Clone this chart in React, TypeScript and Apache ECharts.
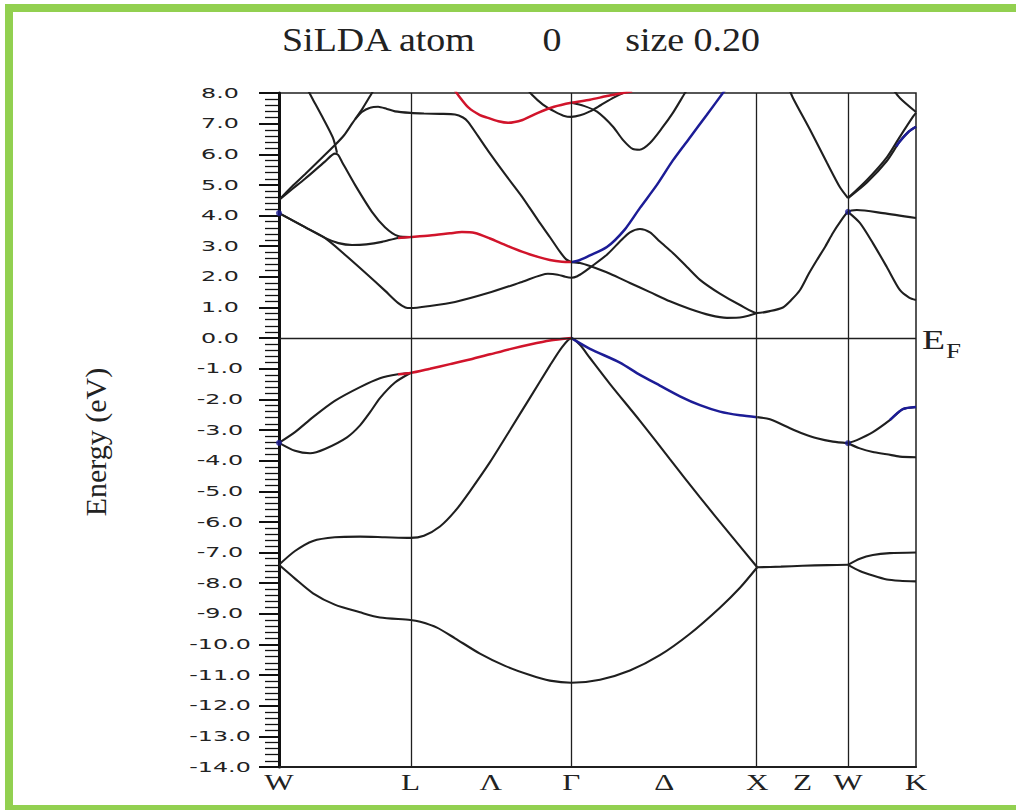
import { useEffect, useRef } from "react";
import * as echarts from "echarts";

// Path W–L–Γ–X–W–K, cumulative |k| in units of 2π/a
const K_VERTICAL = [0.707, 1.573, 2.573, 3.061];
const K_MAX = 3.427;
const K_LABELS = ["W", "L", "Λ", "Γ", "Δ", "X", "Z", "W", "K"];
const K_LABEL_POS = [0, 0.707, 1.14, 1.573, 2.073, 2.573, 2.817, 3.061, 3.427];

const E_MIN = -14;
const E_MAX = 8;
const E_TICKS = [8, 7, 6, 5, 4, 3, 2, 1, 0, -1, -2, -3, -4, -5, -6, -7, -8, -9, -10, -11, -12, -13, -14];

const TITLE_PARTS = ["SiLDA atom", "0", "size 0.20"];
const Y_TITLE = "Energy (eV)";

// ---- valence bands (eV) ----
const vbLowest = [
  [0, -7.4], [0.086, -7.85], [0.183, -8.33], [0.3, -8.7], [0.436, -8.95], [0.543, -9.12], [0.707, -9.2],
  [0.76, -9.26], [0.85, -9.45], [0.947, -9.8], [1.081, -10.3], [1.216, -10.7], [1.35, -11.0], [1.457, -11.18], [1.573, -11.25],
  [1.727, -11.15], [1.888, -10.85], [2.049, -10.35], [2.211, -9.65], [2.372, -8.8], [2.48, -8.15], [2.573, -7.48],
];
const vbZ = [[2.573, -7.48], [2.7, -7.46], [2.817, -7.43], [2.95, -7.41], [3.061, -7.4]];
const vbWK1Upper = [[3.061, -7.4], [3.125, -7.2], [3.195, -7.08], [3.286, -7.02], [3.427, -7.0]];
const vbWK1Lower = [[3.061, -7.4], [3.125, -7.6], [3.195, -7.75], [3.27, -7.88], [3.34, -7.92], [3.427, -7.94]];
const vbSecond = [
  [0, -7.4], [0.086, -6.95], [0.183, -6.62], [0.3, -6.5], [0.436, -6.48], [0.57, -6.5], [0.707, -6.52],
  [0.78, -6.45], [0.866, -6.15], [0.947, -5.65], [1.027, -5.0], [1.135, -4.05], [1.243, -3.0], [1.35, -1.95],
  [1.457, -0.9], [1.522, -0.3], [1.573, 0],
  [1.619, -0.22], [1.673, -0.65], [1.781, -1.5], [1.942, -2.7], [2.103, -3.95], [2.265, -5.2], [2.426, -6.4], [2.573, -7.48],
];
const vbThirdWL = [[0, -3.42], [0.086, -3.07], [0.183, -2.58], [0.3, -2.05], [0.436, -1.6], [0.543, -1.31], [0.64, -1.18], [0.707, -1.14]];
const vbFourthWL = [
  [0, -3.42], [0.086, -3.68], [0.167, -3.76], [0.247, -3.62], [0.366, -3.24], [0.436, -2.85], [0.49, -2.42],
  [0.543, -1.96], [0.624, -1.45], [0.707, -1.14],
];
const vbTopLG = [
  [0.64, -1.18], [0.707, -1.14], [0.812, -1.0], [0.92, -0.85], [1.027, -0.7], [1.135, -0.53], [1.243, -0.36],
  [1.35, -0.21], [1.457, -0.08], [1.573, 0],
];
const vbTopGX = [
  [1.573, 0], [1.673, -0.35], [1.834, -0.8], [1.942, -1.2], [2.049, -1.55], [2.157, -1.9], [2.265, -2.19],
  [2.372, -2.4], [2.48, -2.52], [2.573, -2.58],
];
const vbTopXW = [[2.573, -2.58], [2.641, -2.65], [2.749, -2.94], [2.82, -3.12], [2.894, -3.27], [2.98, -3.38], [3.061, -3.43]];
const vbTopWKUpper = [[3.061, -3.43], [3.109, -3.33], [3.195, -3.07], [3.286, -2.68], [3.356, -2.32], [3.427, -2.25]];
const vbTopWKUpperTint = [[3.286, -2.68], [3.356, -2.32], [3.427, -2.25]];
const vbTopWKLower = [[3.061, -3.43], [3.125, -3.6], [3.195, -3.72], [3.27, -3.79], [3.34, -3.87], [3.427, -3.89]];

// ---- conduction bands (eV) ----
const cbLowest = [
  [0, 4.08], [0.07, 3.85], [0.14, 3.62], [0.247, 3.27], [0.355, 2.72], [0.463, 2.14], [0.57, 1.55], [0.64, 1.15],
  [0.68, 1.0], [0.707, 0.98],
  [0.812, 1.05], [0.947, 1.18], [1.124, 1.47], [1.307, 1.83], [1.447, 2.1], [1.5, 2.07], [1.54, 2.0], [1.573, 1.97],
  [1.605, 2.02], [1.64, 2.15], [1.673, 2.3], [1.764, 2.72], [1.834, 3.15], [1.888, 3.45], [1.942, 3.56], [1.996, 3.45],
  [2.049, 3.15], [2.119, 2.78], [2.195, 2.32], [2.265, 1.9], [2.372, 1.45], [2.48, 1.08], [2.573, 0.82],
  [2.641, 0.88], [2.711, 1.0], [2.757, 1.25], [2.803, 1.57], [2.85, 2.1], [2.894, 2.55], [2.94, 3.0], [2.98, 3.43],
  [3.02, 3.8], [3.061, 4.12],
  [3.109, 4.18], [3.249, 4.08], [3.427, 3.92],
];
const cbDelta = [
  [1.573, 2.48], [1.62, 2.45], [1.673, 2.35], [1.781, 2.1], [1.888, 1.8], [1.996, 1.5], [2.103, 1.2], [2.211, 0.95],
  [2.318, 0.75], [2.41, 0.66], [2.496, 0.69], [2.573, 0.82],
];
const cbSecondWL = [[0, 4.08], [0.07, 3.85], [0.14, 3.62], [0.247, 3.27], [0.32, 3.1], [0.393, 3.04], [0.47, 3.06], [0.554, 3.14], [0.64, 3.27], [0.707, 3.3]];
const cbTintLG = [
  [0.64, 3.27], [0.707, 3.3], [0.812, 3.35], [0.92, 3.42], [0.984, 3.46], [1.054, 3.43], [1.135, 3.25], [1.216, 3.04],
  [1.307, 2.82], [1.393, 2.65], [1.457, 2.55], [1.522, 2.49], [1.573, 2.48],
];
const cbPeakWL = [
  [0, 4.51], [0.07, 4.86], [0.14, 5.2], [0.247, 5.76], [0.301, 6.02], [0.318, 5.98], [0.339, 5.75], [0.409, 5.0],
  [0.5, 4.12], [0.57, 3.62], [0.64, 3.33], [0.707, 3.3],
];
const cbRiseWL = [[0, 4.51], [0.07, 4.95], [0.14, 5.35], [0.22, 5.82], [0.301, 6.3], [0.35, 6.62], [0.393, 7.0], [0.45, 7.5], [0.5, 8.0], [0.53, 8.3]];
const cbFallWL = [[0.14, 8.27], [0.178, 7.84], [0.235, 7.2], [0.29, 6.54], [0.312, 6.05]];
const cbUpperLG = [
  [0.41, 7.15], [0.446, 7.38], [0.49, 7.52], [0.533, 7.55], [0.58, 7.48], [0.624, 7.4], [0.707, 7.35], [0.78, 7.33],
  [0.866, 7.32], [0.947, 7.3], [0.99, 7.2], [1.017, 7.06], [1.07, 6.6], [1.124, 6.12], [1.216, 5.35], [1.307, 4.62],
  [1.393, 3.85], [1.457, 3.3], [1.511, 2.82], [1.545, 2.57], [1.573, 2.48],
];
const cbTintTop = [
  [0.94, 8.15], [0.963, 7.94], [1.02, 7.52], [1.081, 7.28], [1.124, 7.19], [1.18, 7.08], [1.232, 7.03], [1.31, 7.12],
  [1.393, 7.35], [1.48, 7.55], [1.573, 7.68], [1.673, 7.78], [1.764, 7.9], [1.85, 8.0], [1.9, 8.06],
];
const cbUpperU = [
  [1.32, 8.25], [1.361, 7.94], [1.42, 7.62], [1.484, 7.39], [1.53, 7.26], [1.573, 7.22], [1.62, 7.27], [1.673, 7.4],
  [1.73, 7.6], [1.8, 7.85], [1.85, 8.0], [1.88, 8.1],
];
const cbUpperV = [
  [1.573, 7.68], [1.64, 7.58], [1.711, 7.39], [1.797, 6.9], [1.85, 6.47], [1.904, 6.17], [1.94, 6.15], [1.996, 6.37],
  [2.06, 6.85], [2.119, 7.35], [2.184, 8.0], [2.2, 8.15],
];
const cbTintGX = [
  [1.573, 2.48], [1.619, 2.55], [1.673, 2.7], [1.764, 2.97], [1.861, 3.55], [1.942, 4.25], [2.033, 5.0], [2.119, 5.8],
  [2.211, 6.55], [2.302, 7.29], [2.388, 8.0], [2.41, 8.18],
];
const cbFallXW = [[2.74, 8.2], [2.765, 7.84], [2.857, 6.8], [2.948, 5.72], [3.017, 4.93], [3.061, 4.57]];
const cbRiseWKa = [[3.061, 4.57], [3.163, 5.16], [3.27, 5.9], [3.34, 6.57], [3.41, 7.22], [3.427, 7.35]];
const cbRiseWKb = [[3.061, 4.57], [3.163, 5.08], [3.27, 5.78], [3.34, 6.42], [3.39, 6.75], [3.427, 6.9]];
const cbRiseWKbTint = [[3.32, 6.25], [3.34, 6.42], [3.39, 6.75], [3.427, 6.9]];
const cbFallWK = [[3.3, 8.15], [3.34, 7.84], [3.427, 7.38]];
const cbDropWK = [[3.061, 4.12], [3.125, 3.76], [3.195, 3.1], [3.27, 2.32], [3.34, 1.57], [3.39, 1.32], [3.427, 1.24]];

const tintDots = [[0, 4.08], [0, -3.42], [3.061, 4.12], [3.061, -3.43]];

const BLACK = "#1f1f1f";
const RED = "#d1142b";
const BLUE = "#1c1c96";
const GREEN = "#92d050";
const TEXT = "#222";

const lineSeries = (data: number[][], color: string, width: number, z: number) => ({
  type: "line",
  data,
  showSymbol: false,
  smooth: 0.25,
  clip: true,
  silent: true,
  z,
  lineStyle: { color, width },
  itemStyle: { color },
});

const blackBands = [
  vbLowest, vbZ, vbWK1Upper, vbWK1Lower, vbSecond, vbThirdWL, vbFourthWL, vbTopXW, vbTopWKUpper, vbTopWKLower,
  cbLowest, cbDelta, cbSecondWL, cbPeakWL, cbRiseWL, cbFallWL, cbUpperLG, cbUpperU, cbUpperV, cbFallXW,
  cbRiseWKa, cbRiseWKb, cbFallWK, cbDropWK,
];
const redBands = [vbTopLG, cbTintLG, cbTintTop];
const blueBands = [vbTopGX, cbTintGX, vbTopWKUpperTint, cbRiseWKbTint];

export default function App() {
  const ref = useRef<HTMLDivElement>(null);

  useEffect(() => {
    if (!ref.current) return;
    const chart = echarts.init(ref.current, null, { renderer: "svg" });

    const series: any[] = [
      {
        type: "line",
        data: [],
        silent: true,
        z: 1,
        markLine: {
          silent: true,
          symbol: ["none", "none"],
          label: { show: false },
          lineStyle: { color: BLACK, width: 1.3, type: "solid" },
          data: [...K_VERTICAL.map((k) => ({ xAxis: k })), { yAxis: 0 }],
        },
      },
      ...blackBands.map((d) => lineSeries(d, BLACK, 2.1, 2)),
      ...redBands.map((d) => lineSeries(d, RED, 2.5, 3)),
      ...blueBands.map((d) => lineSeries(d, BLUE, 2.5, 3)),
      {
        type: "scatter",
        data: tintDots,
        symbolSize: 6,
        silent: true,
        z: 4,
        itemStyle: { color: BLUE },
      },
    ];

    chart.setOption({
      animation: false,
      backgroundColor: "#ffffff",
      grid: { left: 279, right: 100, top: 93, bottom: 43, show: true, borderColor: BLACK, borderWidth: 1.5 },
      xAxis: {
        type: "value",
        min: 0,
        max: K_MAX,
        axisLine: { show: true, onZero: false, lineStyle: { color: BLACK, width: 2 } },
        axisTick: { show: false },
        axisLabel: { show: false },
        splitLine: { show: false },
      },
      yAxis: {
        type: "value",
        min: E_MIN,
        max: E_MAX,
        interval: 1,
        axisLine: { show: true, onZero: false, lineStyle: { color: "#111", width: 3 } },
        axisTick: { show: true, length: 20, lineStyle: { color: "#111", width: 2 } },
        minorTick: { show: true, splitNumber: 5, length: 14, lineStyle: { color: "#111", width: 1.3 } },
        axisLabel: { show: false },
        splitLine: { show: false },
      },
      series,
    });

    const toPx = (k: number, e: number) => chart.convertToPixel({ gridIndex: 0 }, [k, e]) as number[];

    const serif = '"Liberation Serif", "Times New Roman", serif';
    const text = (t: string, x: number, y: number, size: number, align: string, sx: number, family = serif, extra: any = {}) => ({
      type: "text",
      x,
      y,
      scaleX: sx,
      silent: true,
      ...extra,
      style: {
        text: t,
        fill: TEXT,
        fontSize: size,
        fontFamily: family,
        align,
        verticalAlign: "middle",
        textAlign: align,
        textVerticalAlign: "middle",
      },
    });

    const graphic: any[] = [
      { type: "rect", silent: true, shape: { x: 5, y: 4, width: 8, height: 806 }, style: { fill: GREEN } },
      { type: "rect", silent: true, shape: { x: 5, y: 4, width: 1011, height: 8 }, style: { fill: GREEN } },
      { type: "rect", silent: true, shape: { x: 5, y: 805, width: 1011, height: 5 }, style: { fill: GREEN } },
      text(TITLE_PARTS[0], 282, 40, 33, "left", 1.15),
      text(TITLE_PARTS[1], 552, 40, 33, "center", 1.15),
      text(TITLE_PARTS[2], 760, 40, 33, "right", 1.15),
      text(Y_TITLE, 95, 442, 30, "center", 1, serif, { rotation: Math.PI / 2 }),
      text("E", 922, 339, 28, "left", 1.35),
      text("F", 946, 351, 20, "left", 1.35),
    ];

    E_TICKS.forEach((v) => {
      const [, y] = toPx(0, v);
      graphic.push(text(v.toFixed(1), 220, y, 14, "center", 1.7, '"DejaVu Sans", sans-serif'));
    });
    K_LABELS.forEach((lab, i) => {
      const [x] = toPx(K_LABEL_POS[i], E_MIN);
      graphic.push(text(lab, x, 782, 24, "center", 1.3));
    });

    chart.setOption({ graphic });

    return () => chart.dispose();
  }, []);

  return (
    <div
      ref={ref}
      style={{ position: "absolute", left: 0, top: 0, width: 1016, height: 810, background: "#fff" }}
    />
  );
}
